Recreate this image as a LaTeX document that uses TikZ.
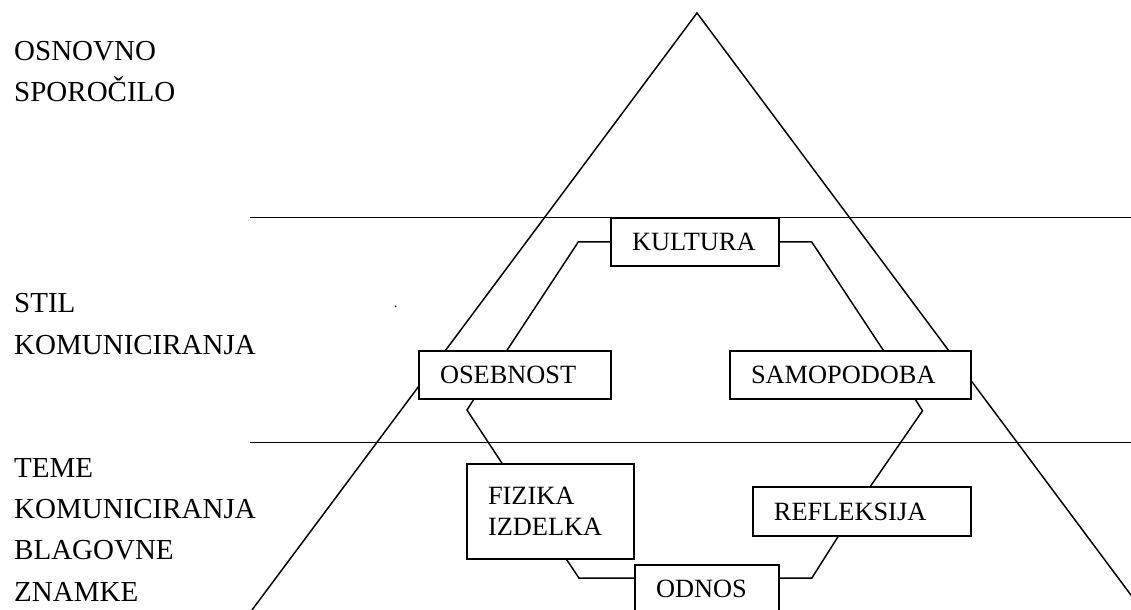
\documentclass[tikz,border=0pt]{standalone}
\usepackage{fontspec}
\setmainfont{Liberation Serif}
\usetikzlibrary{calc}

\begin{document}
\begin{tikzpicture}[line width=1.4pt,
    okvir/.style={draw, fill=white, inner xsep=0.7cm, inner ysep=0pt, minimum height=1.6cm, align=left, font=\fontsize{25}{29.4}\selectfont},
    oznaka/.style={anchor=north west, inner sep=0pt, align=left, font=\fontsize{27.5}{39.2}\selectfont}]
      \useasboundingbox (0,0) rectangle (37.7,20.333);
      \draw (8.4,0) -- (23.233,19.9) -- (38.07,0);
      \draw (8.333,13.077) -- (37.7,13.077);
      \draw (8.333,5.577) -- (37.7,5.577);

      \node[oznaka] (osnovno) at (0.45,18.983) {OSNOVNO\\SPOROČILO};
      \node[oznaka] (stil) at (0.45,10.567) {STIL\\KOMUNICIRANJA};
      \node[oznaka] (teme) at (0.45,5.083) {TEME\\KOMUNICIRANJA\\BLAGOVNE\\ZNAMKE};
      \node[inner sep=0pt, font=\fontsize{14}{16}\selectfont] (tocka) at (13.19,10.11) {.};

      \node[okvir, text width=4.2cm] (kultura) at (23.167,12.267) {KULTURA};
      \node[okvir, text width=5cm] (osebnost) at (17.167,7.833) {OSEBNOST};
      \node[okvir, text width=6.633cm] (samopodoba) at (28.35,7.833) {SAMOPODOBA};
      \node[okvir, text width=4.167cm, minimum height=3.167cm] (fizika) at (18.35,3.283) {FIZIKA\\IZDELKA};
      \node[okvir, text width=5.867cm, minimum height=1.633cm] (refleksija) at (28.733,3.283) {REFLEKSIJA};
      \node[okvir, text width=3.4cm] (odnos) at (23.567,0.7) {ODNOS};

      \draw (kultura.west) -- ++(-1.067,0) -- ($(osebnost.north)+(-0.267,0)$);
      \draw (kultura.east) -- ++(1.067,0) -- ($(samopodoba.north)+(1.093,0)$);
      \draw ($(osebnost.south)+(-1.383,0)$) -- ++(-0.217,-0.343) -- ($(fizika.north)+(-1.617,0)$);
      \draw ($(samopodoba.south)+(2.167,0)$) -- ++(0.233,-0.367) -- ($(refleksija.north)+(0.283,0)$);
      \draw ($(fizika.south)+(0.54,0)$) -- ++(0.41,-0.613) coordinate (k1) -- (k1 -| odnos.west);
      \draw (k1 -| odnos.east) -- ++(1.067,0) -- ($(refleksija.south)+(-0.8,0)$);
    \end{tikzpicture}
\end{document}
